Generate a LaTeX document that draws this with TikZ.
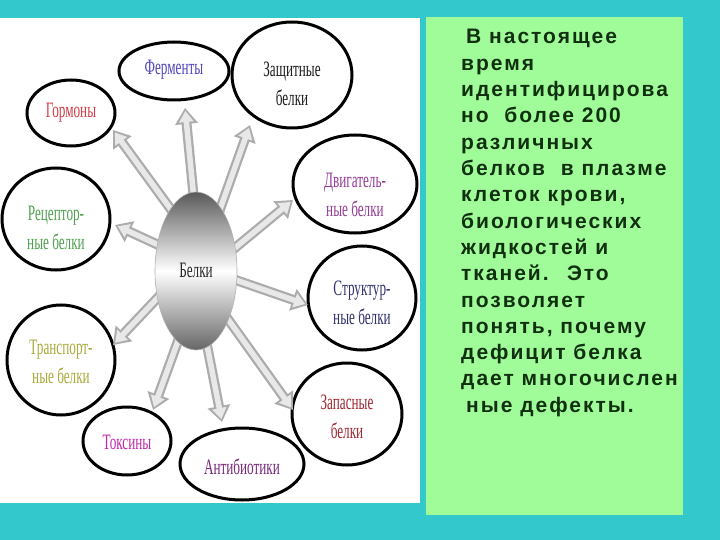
\documentclass[tikz,border=0pt]{standalone}
\usepackage{fontspec}
\setmainfont{Liberation Serif}
\newfontfamily\txtfont[LetterSpace=9.5]{Liberation Sans}
\usetikzlibrary{shapes.geometric,arrows.meta}
\definecolor{tealbg}{RGB}{50,200,204}
\definecolor{greenbg}{RGB}{160,252,152}
\definecolor{txtdark}{RGB}{16,48,16}
\definecolor{cferm}{RGB}{80,70,190}
\definecolor{cgorm}{RGB}{210,60,70}
\definecolor{czasch}{RGB}{30,30,30}
\definecolor{cdvig}{RGB}{150,60,150}
\definecolor{crec}{RGB}{80,160,80}
\definecolor{cstruct}{RGB}{50,50,110}
\definecolor{ctrans}{RGB}{170,170,60}
\definecolor{ctox}{RGB}{190,40,170}
\definecolor{cabx}{RGB}{120,40,120}
\definecolor{czap}{RGB}{160,40,50}
\newcommand\nar[1]{\scalebox{0.6}[1]{#1}}
\tikzset{
  oval/.style={ellipse, draw=black, line width=3pt, inner sep=0pt, fill=white},
  lbl/.style={font=\fontsize{22}{29}\selectfont, align=center, inner sep=0pt},
  arrout/.style={line width=10pt, draw=gray!65, -{Triangle[length=16pt,width=22pt]}},
  arrin/.style={line width=5.5pt, draw=gray!18, shorten >=3pt, -{Triangle[length=11pt,width=14pt]}},
  rtxt/.style={font=\txtfont\bfseries\fontsize{21}{24}\selectfont, text=txtdark, anchor=base west, inner sep=0pt}
}
\begin{document}
\begin{tikzpicture}[x=1pt,y=-1pt]
\useasboundingbox (0,0) rectangle (720,540);
\fill[tealbg] (0,0) rectangle (720,540);
\fill[white] (0,18) rectangle (420,503);
\fill[greenbg] (426,17) rectangle (683,515);

% outer ellipses
\node[oval, minimum width=110, minimum height=58] (ferm) at (174,71) {};
\node[oval, minimum width=120, minimum height=106] (zasch) at (292,75) {};
\node[oval, minimum width=88, minimum height=66] (gorm) at (71,113) {};
\node[oval, minimum width=124, minimum height=98] (dvig) at (355,184) {};
\node[oval, minimum width=108, minimum height=102] (rec) at (56,219) {};
\node[oval, minimum width=108, minimum height=104] (struct) at (362,298) {};
\node[oval, minimum width=108, minimum height=110] (trans) at (61,360) {};
\node[oval, minimum width=88, minimum height=68] (tox) at (127,441) {};
\node[oval, minimum width=124, minimum height=72] (abx) at (242,464) {};
\node[oval, minimum width=110, minimum height=102] (zap) at (347,414) {};

% labels
\node[lbl, text=cferm] (fermL) at (174,70) {\nar{Ферменты}};
\node[lbl, text=czasch] (zaschL) at (292,84) {\nar{Защитные}\\\nar{белки}};
\node[lbl, text=cgorm] (gormL) at (71,113) {\nar{Гормоны}};
\node[lbl, text=cdvig] (dvigL) at (355,195) {\nar{Двигатель-}\\\nar{ные белки}};
\node[lbl, text=crec] (recL) at (56,228) {\nar{Рецептор-}\\\nar{ные белки}};
\node[lbl, text=cstruct] (structL) at (362,303) {\nar{Структур-}\\\nar{ные белки}};
\node[lbl, text=ctrans] (transL) at (61,362) {\nar{Транспорт-}\\\nar{ные белки}};
\node[lbl, text=ctox] (toxL) at (127,442) {\nar{Токсины}};
\node[lbl, text=cabx] (abxL) at (242,467) {\nar{Антибиотики}};
\node[lbl, text=czap] (zapL) at (347,417) {\nar{Запасные}\\\nar{белки}};

% arrow coordinates
\coordinate (s1) at (175,215); \coordinate (t1) at (113,130);
\coordinate (s2) at (194,200); \coordinate (t2) at (185,108);
\coordinate (s3) at (218,215); \coordinate (t3) at (250,125);
\coordinate (s4) at (230,252); \coordinate (t4) at (293,200);
\coordinate (s5) at (165,248); \coordinate (t5) at (115,225);
\coordinate (s6) at (230,278); \coordinate (t6) at (308,305);
\coordinate (s7) at (165,290); \coordinate (t7) at (113,345);
\coordinate (s8) at (182,330); \coordinate (t8) at (153,410);
\coordinate (s9) at (205,335); \coordinate (t9) at (222,422);
\coordinate (s10) at (225,315); \coordinate (t10) at (293,410);
\foreach \i in {1,...,10}{
  \draw[arrout] (s\i) -- (t\i);
  \draw[arrin] (s\i) -- (t\i);
}

% central ellipse
\node[ellipse, minimum width=82, minimum height=158, inner sep=0pt,
  top color=black!65, bottom color=black!60, middle color=white,
  draw=gray!60, line width=0.6pt] (belki) at (196,271) {};
\node[lbl, text=black!85] (belkiL) at (196,270) {\nar{Белки}};

% right text
\foreach \t [count=\i] in {%
  {\hspace{5pt}В настоящее},
  {время},
  {идентифицирова},
  {но \ более 200},
  {различных},
  {белков \ в плазме},
  {клеток крови,},
  {биологических},
  {жидкостей и},
  {тканей. \ Это},
  {позволяет},
  {понять, почему},
  {дефицит белка},
  {дает многочислен},
  {\hspace{5pt}ные дефекты.}}{
  \node[rtxt] (line\i) at (461,{44+26.3*(\i-1)}) {\t};
}
\end{tikzpicture}
\end{document}
